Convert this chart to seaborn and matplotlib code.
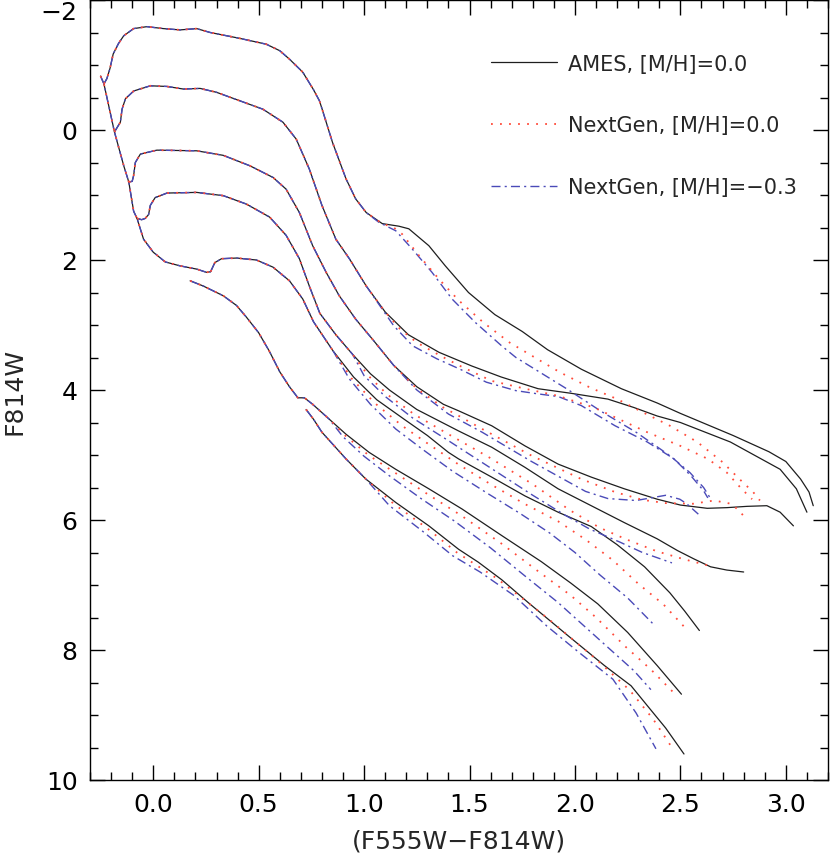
import matplotlib
matplotlib.use("Agg")
from matplotlib import pyplot as plt
from matplotlib.lines import Line2D
from matplotlib.ticker import MultipleLocator, FormatStrFormatter
import seaborn as sns
import pandas as pd
import numpy as np

# shared upper main sequence
ms_x = [-0.25, -0.234, -0.184, -0.14, -0.116, -0.093, -0.077, -0.046, 0.0, 0.057, 0.127, 0.206, 0.253, 0.272]
ms_y = [-0.83, -0.71, 0.03, 0.55, 0.80, 1.25, 1.36, 1.68, 1.88, 2.03, 2.09, 2.14, 2.19, 2.18]

# AMES isochrones (solid); NextGen curves share the first n points, then follow their own tails
c1_x = [-0.234, -0.22, -0.205, -0.19, -0.165, -0.14, -0.093, -0.03, 0.048, 0.127, 0.206, 0.27, 0.41, 0.536, 0.60,
        0.646, 0.709, 0.76, 0.788, 0.80, 0.85, 0.914, 0.96, 1.01, 1.086, 1.165, 1.212, 1.307, 1.385, 1.495, 1.62,
        1.75, 1.87, 2.03, 2.22, 2.39, 2.5, 2.75, 2.92, 3.0, 3.07, 3.11, 3.13]
c1_y = [-0.71, -0.79, -0.95, -1.17, -1.33, -1.45, -1.56, -1.59, -1.56, -1.54, -1.56, -1.50, -1.41, -1.32, -1.22,
        -1.09, -0.89, -0.62, -0.45, -0.33, 0.19, 0.75, 1.06, 1.27, 1.44, 1.48, 1.52, 1.78, 2.09, 2.5, 2.84,
        3.1, 3.38, 3.68, 3.98, 4.2, 4.36, 4.7, 4.95, 5.1, 5.37, 5.57, 5.78]
c1_red_x = [1.14, 1.18, 1.26, 1.354, 1.448, 1.565, 1.69, 1.82, 1.93, 2.07, 2.2, 2.32, 2.45, 2.58, 2.70, 2.78, 2.845, 2.877]
c1_red_y = [1.5, 1.6, 1.93, 2.29, 2.62, 2.96, 3.27, 3.52, 3.73, 3.96, 4.14, 4.34, 4.55, 4.8, 5.11, 5.37, 5.57, 5.7]
c1_blue_x = [1.07, 1.15, 1.228, 1.322, 1.417, 1.527, 1.652, 1.72, 1.82, 1.96, 2.13, 2.29, 2.45, 2.545, 2.61, 2.645]
c1_blue_y = [1.42, 1.55, 1.83, 2.19, 2.6, 2.96, 3.32, 3.5, 3.7, 3.98, 4.34, 4.65, 5.01, 5.27, 5.5, 5.68]

c2_x = [-0.184, -0.171, -0.156, -0.148, -0.132, -0.093, -0.014, 0.065, 0.143, 0.222, 0.30, 0.41, 0.52, 0.615,
        0.678, 0.74, 0.80, 0.866, 0.93, 1.01, 1.10, 1.21, 1.355, 1.51, 1.65, 1.825, 1.98, 2.156, 2.28, 2.39, 2.5,
        2.737, 2.973, 3.05, 3.1]
c2_y = [0.03, -0.04, -0.12, -0.32, -0.48, -0.6, -0.68, -0.67, -0.63, -0.64, -0.58, -0.45, -0.32, -0.12,
        0.14, 0.6, 1.16, 1.68, 1.98, 2.4, 2.8, 3.15, 3.42, 3.63, 3.8, 3.98, 4.05, 4.14, 4.27, 4.4, 4.5,
        4.8, 5.22, 5.52, 5.88]
c2_red_x = [1.17, 1.25, 1.36, 1.455, 1.605, 1.763, 1.92, 2.09, 2.343, 2.5, 2.63, 2.72, 2.79, 2.84]
c2_red_y = [3.06, 3.27, 3.47, 3.63, 3.86, 3.98, 4.09, 4.27, 4.65, 4.86, 5.06, 5.27, 5.52, 5.68]
c2_blue_x = [1.14, 1.23, 1.345, 1.455, 1.58, 1.72, 1.825, 1.92, 2.03, 2.19, 2.343, 2.47, 2.55, 2.61, 2.63]
c2_blue_y = [3.01, 3.32, 3.52, 3.68, 3.88, 4.01, 4.06, 4.1, 4.24, 4.55, 4.8, 5.06, 5.32, 5.55, 5.66]

c3_x = [-0.116, -0.1, -0.093, -0.085, -0.061, 0.017, 0.206, 0.332, 0.458, 0.568, 0.63, 0.693, 0.756, 0.82,
        0.882, 0.96, 1.04, 1.14, 1.25, 1.376, 1.448, 1.605, 1.763, 1.92, 2.077, 2.234, 2.39, 2.5, 2.627, 2.72,
        2.816, 2.91, 2.973, 3.036]
c3_y = [0.80, 0.79, 0.70, 0.50, 0.37, 0.31, 0.32, 0.39, 0.55, 0.73, 0.91, 1.27, 1.78, 2.19,
        2.55, 2.91, 3.22, 3.62, 3.95, 4.22, 4.32, 4.55, 4.86, 5.14, 5.34, 5.52, 5.68, 5.77, 5.82, 5.81,
        5.79, 5.78, 5.88, 6.09]
c3_red_x = [1.25, 1.376, 1.45, 1.56, 1.794, 2.03, 2.19, 2.32, 2.43, 2.56, 2.66, 2.74, 2.78, 2.81]
c3_red_y = [3.98, 4.27, 4.4, 4.6, 5.01, 5.37, 5.57, 5.69, 5.74, 5.75, 5.7, 5.75, 5.86, 5.98]
c3_blue_x = [1.25, 1.40, 1.56, 1.794, 1.95, 2.05, 2.156, 2.29, 2.36, 2.43, 2.497, 2.53, 2.585]
c3_blue_y = [4.0, 4.37, 4.65, 5.1, 5.38, 5.56, 5.67, 5.7, 5.66, 5.62, 5.68, 5.75, 5.91]

c4_x = [-0.077, -0.055, -0.038, -0.022, -0.014, 0.009, 0.065, 0.206, 0.332, 0.442, 0.552, 0.63, 0.693, 0.74,
        0.79, 0.866, 0.945, 1.03, 1.12, 1.25, 1.40, 1.448, 1.605, 1.763, 1.92, 2.077, 2.234, 2.39, 2.486, 2.565,
        2.643, 2.72, 2.80]
c4_y = [1.36, 1.38, 1.36, 1.30, 1.16, 1.04, 0.97, 0.96, 1.01, 1.14, 1.34, 1.62, 1.98, 2.4,
        2.82, 3.15, 3.45, 3.75, 4.0, 4.3, 4.55, 4.63, 4.88, 5.19, 5.52, 5.78, 6.04, 6.29, 6.47, 6.6,
        6.72, 6.77, 6.8]
c4_red_x = [1.02, 1.11, 1.24, 1.40, 1.6, 1.8, 1.976, 2.118, 2.245, 2.387, 2.513, 2.655]
c4_red_y = [3.78, 4.07, 4.38, 4.68, 5.05, 5.45, 5.85, 6.12, 6.3, 6.48, 6.6, 6.72]
c4_blue_x = [1.0, 1.1, 1.23, 1.40, 1.6, 1.8, 1.95, 2.07, 2.213, 2.32, 2.46]
c4_blue_y = [3.78, 4.1, 4.43, 4.78, 5.2, 5.62, 5.92, 6.14, 6.34, 6.5, 6.66]

c5_x = [0.272, 0.292, 0.324, 0.395, 0.489, 0.568, 0.646, 0.709, 0.76, 0.853, 0.95, 1.06, 1.19, 1.30, 1.40,
        1.448, 1.605, 1.763, 1.92, 2.077, 2.2, 2.33, 2.45, 2.52, 2.59]
c5_y = [2.18, 2.04, 1.98, 1.97, 2.0, 2.11, 2.32, 2.6, 2.95, 3.4, 3.8, 4.15, 4.45, 4.7, 4.96,
        5.06, 5.34, 5.63, 5.88, 6.1, 6.38, 6.72, 7.12, 7.4, 7.7]
c5_red_x = [0.94, 1.05, 1.18, 1.3, 1.45, 1.6, 1.76, 1.92, 2.05, 2.18, 2.3, 2.42, 2.52]
c5_red_y = [3.82, 4.2, 4.55, 4.82, 5.15, 5.45, 5.75, 6.02, 6.3, 6.62, 6.98, 7.3, 7.65]
c5_blue_x = [0.93, 1.03, 1.15, 1.28, 1.42, 1.58, 1.74, 1.88, 2.0, 2.12, 2.25, 2.38]
c5_blue_y = [3.83, 4.22, 4.6, 4.92, 5.25, 5.58, 5.9, 6.2, 6.5, 6.85, 7.2, 7.63]

c6_x = [0.175, 0.237, 0.332, 0.395, 0.442, 0.5, 0.55, 0.6, 0.646, 0.686, 0.717, 0.756, 0.835, 0.914, 1.024,
        1.15, 1.307, 1.464, 1.653, 1.84, 1.98, 2.108, 2.25, 2.39, 2.505]
c6_y = [2.32, 2.4, 2.55, 2.7, 2.88, 3.12, 3.4, 3.72, 3.95, 4.12, 4.12, 4.22, 4.45, 4.68, 4.96,
        5.22, 5.52, 5.83, 6.24, 6.64, 6.97, 7.29, 7.73, 8.24, 8.68]
c6_red_x = [0.91, 1.02, 1.15, 1.3, 1.46, 1.65, 1.83, 1.98, 2.1, 2.24, 2.36, 2.463]
c6_red_y = [4.7, 5.0, 5.28, 5.6, 5.93, 6.36, 6.8, 7.16, 7.5, 7.95, 8.3, 8.64]
c6_blue_x = [0.9, 1.0, 1.12, 1.27, 1.43, 1.6, 1.77, 1.92, 2.05, 2.17, 2.28, 2.36]
c6_blue_y = [4.72, 5.02, 5.32, 5.67, 6.02, 6.43, 6.88, 7.27, 7.65, 8.0, 8.32, 8.61]

c7_x = [0.725, 0.76, 0.80, 0.914, 1.008, 1.15, 1.307, 1.448, 1.542, 1.653, 1.778, 1.967, 2.14, 2.266, 2.344,
        2.43, 2.517]
c7_y = [4.3, 4.45, 4.65, 5.06, 5.37, 5.73, 6.09, 6.45, 6.65, 6.92, 7.27, 7.78, 8.24, 8.55, 8.86, 9.2, 9.6]
c7_red_x = [1.14, 1.3, 1.44, 1.63, 1.866, 2.1, 2.26, 2.37, 2.466]
c7_red_y = [5.75, 6.13, 6.5, 6.9, 7.5, 8.14, 8.62, 9.06, 9.53]
c7_blue_x = [1.12, 1.28, 1.42, 1.55, 1.71, 1.866, 2.02, 2.18, 2.29, 2.384]
c7_blue_y = [5.78, 6.18, 6.55, 6.8, 7.16, 7.63, 8.04, 8.45, 8.97, 9.52]

# number of AMES points the NextGen curves share: (red, blue)
shared = {"c1": (25, 24), "c2": (21, 20), "c3": (18, 18), "c4": (17, 17),
          "c5": (10, 10), "c6": (13, 13), "c7": (5, 5)}

tracks = {
    "c1": (c1_x, c1_y, c1_red_x, c1_red_y, c1_blue_x, c1_blue_y),
    "c2": (c2_x, c2_y, c2_red_x, c2_red_y, c2_blue_x, c2_blue_y),
    "c3": (c3_x, c3_y, c3_red_x, c3_red_y, c3_blue_x, c3_blue_y),
    "c4": (c4_x, c4_y, c4_red_x, c4_red_y, c4_blue_x, c4_blue_y),
    "c5": (c5_x, c5_y, c5_red_x, c5_red_y, c5_blue_x, c5_blue_y),
    "c6": (c6_x, c6_y, c6_red_x, c6_red_y, c6_blue_x, c6_blue_y),
    "c7": (c7_x, c7_y, c7_red_x, c7_red_y, c7_blue_x, c7_blue_y),
}

models = ["AMES, [M/H]=0.0", "NextGen, [M/H]=0.0", "NextGen, [M/H]=\u22120.3"]
colors = {models[0]: "#1e1e1e", models[1]: "#ff4b3a", models[2]: "#4a4ab8"}
dashes = {models[0]: "", models[1]: (1, 4), models[2]: (6.5, 3, 1.5, 3)}
widths = {models[0]: 0.9, models[1]: 1.3, models[2]: 1.0}

rows = []
def add(model, track, xs, ys):
    for i, (x, y) in enumerate(zip(xs, ys)):
        rows.append({"model": model, "track": track, "order": i, "x": x, "y": y})

for m in models:
    add(m, "ms", ms_x, ms_y)
for name, (ax_, ay_, rx, ry, bx, by) in tracks.items():
    nr, nb = shared[name]
    add(models[0], name, ax_, ay_)
    add(models[1], name, ax_[:nr] + rx, ay_[:nr] + ry)
    add(models[2], name, ax_[:nb] + bx, ay_[:nb] + by)
df = pd.DataFrame(rows)

sns.set_style("ticks")
plt.rcParams["font.family"] = ["DejaVu Sans"]

fig = plt.figure(figsize=(8.3, 8.62), dpi=100)
ax = fig.add_axes([90 / 830, 81 / 862, 738 / 830, 780 / 862])

# black first, then blue, red dots on top
for m in [models[0], models[2], models[1]]:
    sns.lineplot(data=df[df["model"] == m], x="x", y="y", units="track",
                 estimator=None, sort=False, color=colors[m], dashes=False,
                 linewidth=widths[m], legend=False, ax=ax)
    if dashes[m]:
        for line in ax.get_lines()[-df[df["model"] == m]["track"].nunique():]:
            line.set_dashes(dashes[m])

ax.set_xlim(-0.3, 3.2)
ax.set_ylim(10, -2)
ax.xaxis.set_major_locator(MultipleLocator(0.5))
ax.xaxis.set_minor_locator(MultipleLocator(0.1))
ax.yaxis.set_major_locator(MultipleLocator(2))
ax.yaxis.set_minor_locator(MultipleLocator(0.5))
ax.xaxis.set_major_formatter(FormatStrFormatter("%.1f"))
ax.tick_params(which="both", direction="in", top=True, right=True, width=1.0, colors="black", labelsize=18)
ax.tick_params(which="major", length=11, pad=9)
ax.tick_params(which="minor", length=5.5)
for s in ax.spines.values():
    s.set_linewidth(1.0)
    s.set_color("black")

ax.set_xlabel("(F555W\u2212F814W)", fontsize=18, labelpad=9)
ax.set_ylabel("F814W", fontsize=18, labelpad=10)

fig.canvas.draw()
for lab in ax.get_yticklabels():
    if lab.get_text() in ("\u22122", "-2"):
        lab.set_verticalalignment("top")

handles = [Line2D([], [], color=colors[m], lw=widths[m],
                  linestyle="-" if dashes[m] == "" else (0, dashes[m])) for m in models]
ax.legend(handles, models, loc="upper left", bbox_to_anchor=(472 / 830, 1 - 36 / 862),
          bbox_transform=fig.transFigure, frameon=False, fontsize=15,
          handlelength=3.2, handletextpad=0.5, labelspacing=2.0)

fig.savefig("out.png", dpi=100)
